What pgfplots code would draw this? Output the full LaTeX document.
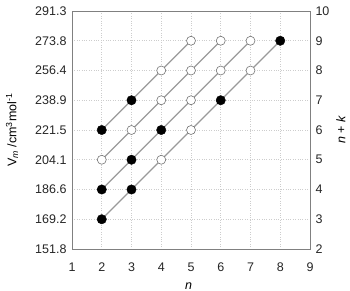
\documentclass[border=0pt]{standalone}
\usepackage{pgfplots}
\pgfplotsset{compat=1.18}
\usepackage{fontspec}
\setmainfont{Liberation Sans}
\definecolor{lncol}{HTML}{9A9A9A}
\definecolor{frcol}{HTML}{808080}
\definecolor{grcol}{HTML}{CDCDCD}
\begin{document}
\begin{tikzpicture}
\pgfplotsset{every axis/.append style={font=\fontsize{12.5}{15}\selectfont, /pgf/number format/assume math mode=true}}
\begin{axis}[
  name=main, at={(0,0)}, anchor=south west,
  width=238pt, height=238pt, scale only axis,
  xmin=1, xmax=9, ymin=2, ymax=10,
  xtick={1,...,9}, ytick={2,...,10},
  major tick length=0pt,
  yticklabel pos=right,
  axis line style={frcol, line width=0.8pt},
  grid=major, grid style={dotted, grcol, line width=0.6pt},
  xticklabel style={yshift=-10pt, text=black!85},
  yticklabel style={xshift=2pt, text=black!85},
  xlabel={\textit{n}},
  xlabel style={at={(axis description cs:0.49,-0.157)}, anchor=center},
  ylabel={\textit{n} + \textit{k}},
  ylabel style={at={(axis description cs:1.13,0.5)}, anchor=center},
  clip=false,
]
\addplot[lncol, line width=1.3pt, no marks] coordinates {(2,3) (3,4) (4,5) (5,6) (6,7) (7,8) (8,9)};
\addplot[lncol, line width=1.3pt, no marks] coordinates {(2,4) (3,5) (4,6) (5,7) (6,8) (7,9)};
\addplot[lncol, line width=1.3pt, no marks] coordinates {(2,5) (3,6) (4,7) (5,8) (6,9)};
\addplot[lncol, line width=1.3pt, no marks] coordinates {(2,6) (3,7) (4,8) (5,9)};
\addplot[only marks, mark=*, mark size=4.7pt, mark options={fill=black, draw=black}] coordinates {
 (2,3) (3,4) (6,7) (8,9) (2,4) (3,5) (4,6) (2,6) (3,7)};
\addplot[only marks, mark=*, mark size=4.5pt, mark options={fill=white, draw=black!55, line width=0.6pt}] coordinates {
 (4,5) (5,6) (7,8) (2,5) (3,6) (4,7) (5,8) (6,9) (5,7) (6,8) (7,9) (4,8) (5,9)};
\end{axis}
\begin{axis}[
  at={(0,0)}, anchor=south west,
  width=238pt, height=238pt, scale only axis,
  xmin=1, xmax=9, ymin=151.8, ymax=291.3,
  hide x axis,
  axis y line*=left,
  axis line style={draw=none},
  major tick length=0pt,
  ytick={151.8,169.2375,186.675,204.1125,221.55,238.9875,256.425,273.8625,291.3},
  yticklabels={151.8,169.2,186.6,204.1,221.5,238.9,256.4,273.8,291.3},
  yticklabel style={xshift=-2pt, text=black!85},
  ylabel={V\textsubscript{\textit{m}} /cm\textsuperscript{3}mol\textsuperscript{-1}},
  ylabel style={at={(axis description cs:-0.252,0.5)}, anchor=center},
]
\end{axis}
\pgfresetboundingbox
\useasboundingbox (-72pt,-42pt) rectangle (278pt,249pt);
\end{tikzpicture}
\end{document}
